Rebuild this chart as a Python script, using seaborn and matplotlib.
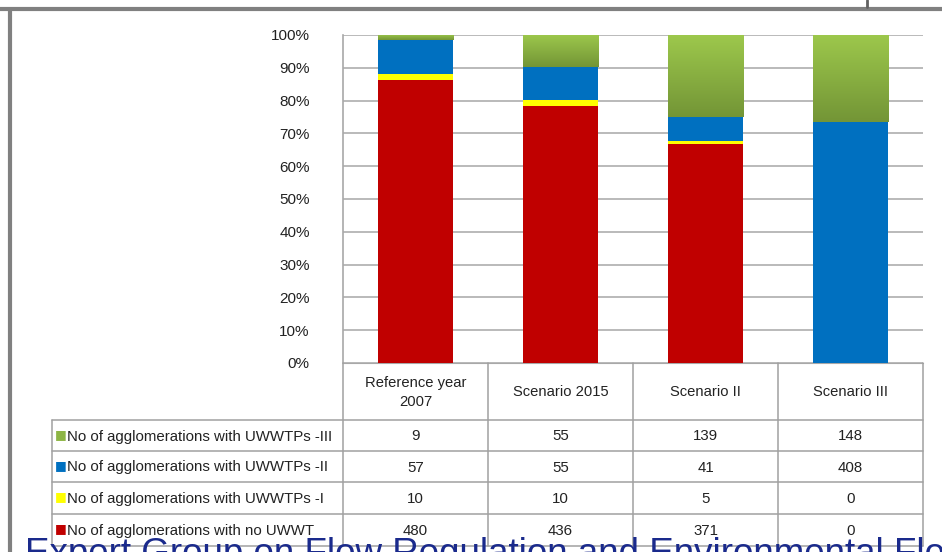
import numpy as np
import pandas as pd
import matplotlib
matplotlib.use('Agg')
import matplotlib.pyplot as plt
import seaborn as sns

# data from the table under the chart
scenarios = ['Reference year\n2007', 'Scenario 2015', 'Scenario II', 'Scenario III']
series = ['No of agglomerations with UWWTPs -III',
          'No of agglomerations with UWWTPs -II',
          'No of agglomerations with UWWTPs -I',
          'No of agglomerations with no UWWT']
uwwtp_3 = [9, 55, 139, 148]
uwwtp_2 = [57, 55, 41, 408]
uwwtp_1 = [10, 10, 5, 0]
no_uwwt = [480, 436, 371, 0]
colors = ['#8DB545', '#0070C0', '#FFFF00', '#C00000']

sns.set_style('white')
plt.rcParams['font.family'] = ['Liberation Sans', 'DejaVu Sans']

W, H = 942, 552
fig = plt.figure(figsize=(W / 100, H / 100), dpi=100)

def fx(px):
    return px / W

def fy(py):
    return 1 - py / H

# plot area
x0, x1, y0, y1 = 343, 923, 35, 363
ax = fig.add_axes([fx(x0), fy(y1), fx(x1) - fx(x0), fy(y0) - fy(y1)])

df = pd.DataFrame({'scenario': scenarios, 'III': uwwtp_3, 'II': uwwtp_2,
                   'I': uwwtp_1, 'none': no_uwwt})
tot = df[['III', 'II', 'I', 'none']].sum(axis=1)
share = df[['none', 'I', 'II', 'III']].div(tot, axis=0)
share['scenario'] = scenarios

bottom = np.zeros(len(scenarios))
layer_cols = {'none': '#C00000', 'I': '#FFFF00', 'II': '#0070C0', 'III': '#8DB545'}
for key in ['none', 'I', 'II', 'III']:
    sns.barplot(data=share, x='scenario', y=key, color=layer_cols[key],
                bottom=bottom, width=0.52, ax=ax, saturation=1,
                linewidth=0, zorder=3)
    bottom = bottom + share[key].values

# green gradient on the top segments (light at top, darker at bottom)
grad = np.linspace(0, 1, 256).reshape(-1, 1)
cmap = matplotlib.colors.LinearSegmentedColormap.from_list('g', ['#739536', '#9DC84C'])
for p in ax.patches[-len(scenarios):]:
    if p.get_height() <= 0:
        continue
    xl, yb = p.get_x(), p.get_y()
    im = ax.imshow(grad, cmap=cmap, aspect='auto', zorder=4, origin='lower',
                   extent=[xl, xl + p.get_width(), yb, yb + p.get_height()])
    im.set_clip_path(p)

ax.set_xlim(-0.5, 3.5)
ax.set_ylim(0, 1)
ax.set_yticks(np.arange(0, 1.01, 0.1))
ax.set_yticklabels([f'{int(round(v * 100))}%' for v in np.arange(0, 1.01, 0.1)],
                   fontsize=11, color='#222222')
ax.set_xticks([])
ax.set_xlabel('')
ax.set_ylabel('')
ax.grid(axis='y', color='#b4b4b4', linewidth=1.3, zorder=0)
for s in ['top', 'right']:
    ax.spines[s].set_visible(False)
ax.spines['left'].set_color('#a8a8a8')
ax.spines['left'].set_linewidth(1.2)
ax.spines['bottom'].set_color('#a8a8a8')
ax.tick_params(axis='y', length=0, pad=24)

# data table
tab = fig.add_axes([0, 0, 1, 1])
tab.set_xlim(0, W)
tab.set_ylim(H, 0)
tab.axis('off')
cols = [52, 343, 488, 633, 778, 923]
rows = [363, 420, 451, 482, 514, 546]
lc = '#a0a0a0'
for c in cols[1:]:
    tab.plot([c, c], [rows[0], rows[-1]], color=lc, lw=1.1)
tab.plot([cols[0], cols[0]], [rows[1], rows[-1]], color=lc, lw=1.1)
for r in rows[1:]:
    tab.plot([cols[0], cols[-1]], [r, r], color=lc, lw=1.1)
for i, s in enumerate(scenarios):
    tab.text((cols[i + 1] + cols[i + 2]) / 2, (rows[0] + rows[1]) / 2 + 1, s,
             ha='center', va='center', fontsize=10.6, color='#222222',
             linespacing=1.45)
values = [uwwtp_3, uwwtp_2, uwwtp_1, no_uwwt]
for j, (name, col, vals) in enumerate(zip(series, colors, values)):
    ym = (rows[j + 1] + rows[j + 2]) / 2 + 1
    tab.text(61, ym - 2, '■', color=col, fontsize=9, ha='center', va='center',
             family='DejaVu Sans')
    tab.text(67, ym, name, ha='left', va='center', fontsize=10.8,
             color='#222222')
    for i, v in enumerate(vals):
        tab.text((cols[i + 1] + cols[i + 2]) / 2, ym, str(v), ha='center',
                 va='center', fontsize=10.8, color='#222222')

# slide frame and footer text
tab.plot([0, W], [8.5, 8.5], color='#808080', lw=3, solid_capstyle='butt')
tab.plot([9.5, 9.5], [8, H], color='#808080', lw=3, solid_capstyle='butt')
tab.plot([867, 867], [0, 7], color='#606060', lw=2)
tab.text(25, 537, 'Expert Group on Flow Regulation and Environmental Flows',
         ha='left', va='top', fontsize=26.5, color='#1A2A8C')

fig.savefig('out.png', dpi=100)
